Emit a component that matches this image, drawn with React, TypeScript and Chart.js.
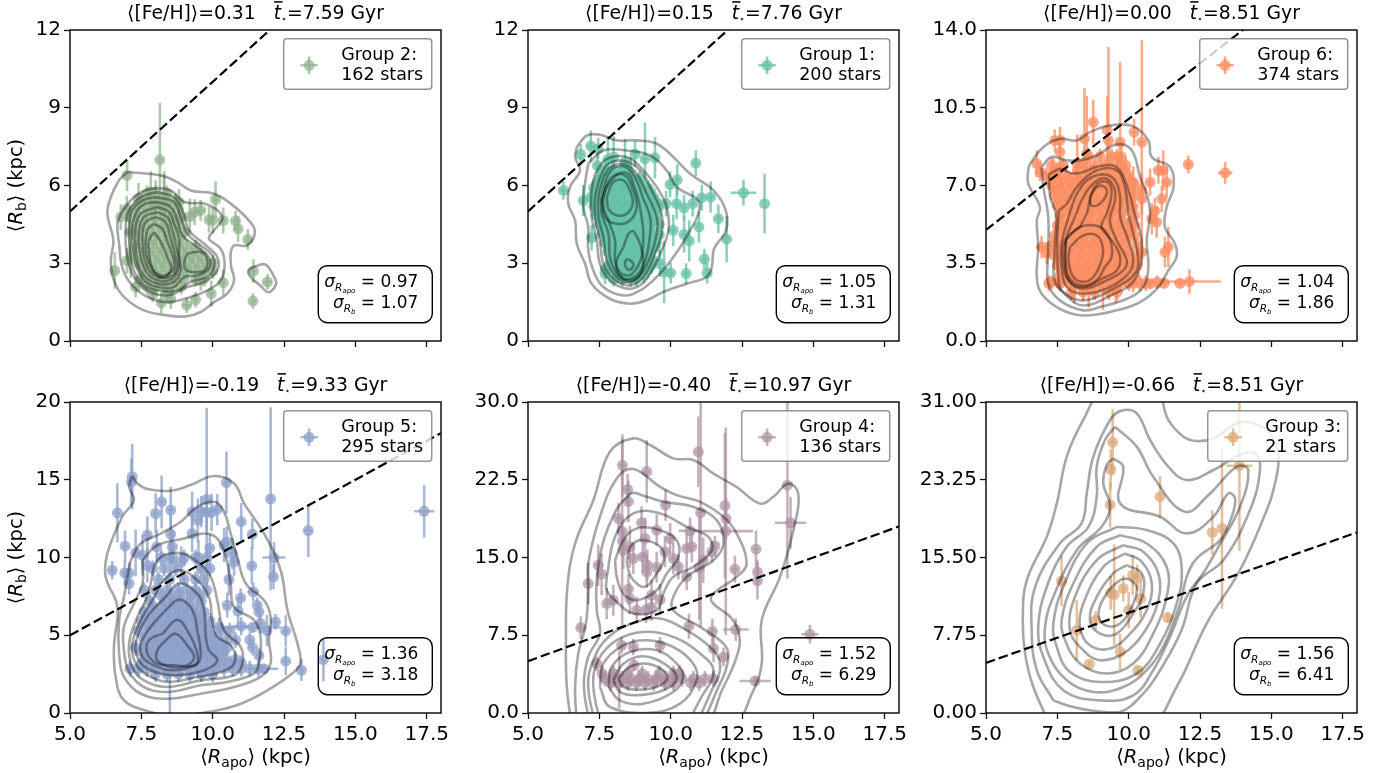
import React, { useEffect, useRef } from "react";
import { Chart, registerables } from "chart.js";
Chart.register(...registerables);

const FONT = "'DejaVu Sans'";
const xTicks = [5, 7.5, 10, 12.5, 15, 17.5];
const xLabels = ["5.0", "7.5", "10.0", "12.5", "15.0", "17.5"];
const oneToOne = [5, 18];

// star tables: x, y, xErr, yErr
const group2Stars = [[8.15,6.99,.1,2.2],[7.0,6.39,.1,.6],[6.57,2.72,.1,.7],[10.1,5.46,.1,.7],[9.37,4.97,.15,.5],[9.58,5.04,.15,.4],[9.87,4.68,.1,.5],[10.0,4.66,.1,.5],[10.37,4.65,.1,.5],[10.8,4.63,.1,.4],[10.89,4.33,.1,.5],[11.23,3.92,.1,.4],[11.43,2.7,.1,.45],[11.92,2.28,.15,.3],[11.41,1.54,.1,.3],[10.37,2.25,.1,.5],[9.95,1.83,.1,.5],[9.4,1.59,.1,.3],[9.09,1.38,.15,.3],[8.2,1.47,.1,.4],[8.53,1.63,.1,.4],[7.3,2.08,.1,.4],[7.13,3.24,.1,.8],[6.78,4.78,.1,.5],[6.99,5.1,.15,.5],[8.82,5.36,.1,.5],[7.83,5.75,.1,.8],[8.3,5.55,.1,1.0],[8.82,4.72,.1,.5],[9.58,2.34,.1,.4],[8.3,5.2,.1,1.2],[8.0,5.3,.1,.9],[7.4,5.5,.1,.6],[7.1,4.2,.1,1.0],[7.0,3.1,.1,.5],[9.2,4.8,.1,.7]];
const group1Stars = [[6.24,5.81,.1,.35],[6.85,7.2,.1,.4],[7.2,7.52,.15,.6],[7.46,7.42,.1,.4],[7.43,6.77,.1,.5],[6.94,5.42,.1,.6],[7.23,3.98,.1,.5],[7.7,2.6,.1,.4],[8.75,7.22,.1,.5],[9.1,7.03,.1,1.4],[9.45,7.07,.1,.8],[10.23,6.22,.1,.6],[9.98,6.04,.1,.5],[10.88,6.86,.1,.5],[12.55,5.72,.45,.5],[13.29,5.3,.05,1.15],[11.4,5.55,.1,.6],[11.09,5.53,.1,.5],[10.77,5.3,.1,.5],[10.47,5.14,.1,.5],[10.21,5.3,.1,.6],[9.84,5.3,.1,.5],[11.67,4.72,.1,.55],[11.96,3.93,.1,.9],[10.99,4.4,.1,.6],[10.47,4.11,.1,.7],[10.09,4.27,.1,.6],[10.65,3.86,.1,.8],[11.18,3.16,.1,.4],[11.28,2.62,.1,.4],[10.54,2.6,.1,.4],[9.77,2.66,.1,1.2],[10.0,2.62,.1,.4],[9.63,2.98,.1,.5],[9.6,4.1,.1,.7],[8.0,7.1,.1,.8],[8.4,6.9,.1,.9],[7.8,7.0,.1,.9],[8.6,6.3,.1,.8]];
const group6Stars = [[13.38,7.57,.25,.5],[12.09,7.95,.1,.4],[12.13,2.68,1.1,.55],[11.8,2.6,.2,.2],[11.0,2.65,.2,.3],[11.24,2.6,.2,.2],[10.76,2.58,.1,.2],[8.76,9.85,.1,1.0],[10.19,9.4,.1,.6],[10.46,8.95,.1,4.6],[9.29,9.03,.1,4.2],[9.7,8.95,.1,3.6],[8.53,8.43,.1,2.6],[7.59,9.03,.15,.6],[7.41,9.03,.1,.5],[6.78,7.98,.1,.6],[6.89,7.6,.1,.4],[11.21,7.68,.1,.9],[11.04,7.68,.1,.6],[11.33,7.15,.1,.7],[10.75,7.15,.1,.6],[10.46,6.78,.1,.8],[11.16,6.4,.1,.6],[10.46,6.4,.1,.7],[10.16,6.03,.1,.6],[10.92,5.85,.1,.6],[10.81,5.5,.1,.7],[10.98,5.35,.1,.7],[11.39,4.23,.1,.9],[11.27,4.0,.1,.7],[10.46,4.0,.1,.6],[6.95,4.23,.2,.5],[7.13,3.96,.1,.5],[7.3,2.65,.1,.3],[7.55,2.65,.1,.3],[10.16,2.6,.1,.4],[7.59,8.5,.1,.6],[7.36,7.53,.1,.7],[9.75,8.28,.1,.6],[10.16,7.15,.1,.7],[8.45,9.1,.05,2.3],[9.25,9.5,.05,1.5],[8.2,8.0,.1,1.3],[8.6,2.4,.05,.9],[8.1,2.5,.05,.8],[9.1,2.4,.05,1.0],[9.55,2.4,.05,.7],[8.4,2.5,.05,.7],[7.95,2.9,.05,.7]];
const group5Stars = [[17.41,12.97,.35,1.7],[13.35,11.73,.15,1.7],[12.03,13.77,.1,5.9],[12.15,10.0,.4,1.0],[12.13,8.76,.1,.8],[12.56,5.28,.1,1.0],[12.56,3.33,.1,.9],[13.11,2.75,.1,.7],[13.88,3.43,.1,1.4],[12.2,5.86,.1,.5],[11.4,5.5,1.0,.3],[7.18,15.2,.1,2.1],[7.15,14.87,.1,1.5],[6.66,12.87,.1,1.9],[6.48,9.18,.1,.6],[6.93,10.73,.1,1.0],[6.92,9.01,.1,.8],[7.07,9.0,.1,.7],[7.07,8.32,.1,.7],[7.3,10.3,.1,1.5],[7.54,10.15,.1,1.3],[7.71,11.44,.1,1.2],[7.71,9.5,.1,1.1],[8.0,12.83,.1,1.3],[8.21,13.58,.1,1.7],[8.53,13.05,.1,1.5],[8.53,11.5,.1,1.2],[8.04,10.68,.1,1.1],[8.59,10.68,.1,1.1],[9.28,11.54,.1,1.2],[9.28,12.94,.1,1.3],[9.48,12.4,.1,1.4],[9.79,13.73,.1,5.9],[9.6,12.95,.1,1.0],[9.79,12.9,.1,1.2],[9.96,12.9,.1,1.2],[10.16,13.09,.1,1.0],[10.48,14.82,.1,2.0],[11.0,12.3,.1,1.2],[11.39,11.5,.1,1.0],[10.49,11.0,.1,1.0],[10.69,10.25,.1,1.0],[10.75,9.72,.1,.9],[11.37,9.46,.1,1.2],[10.57,8.58,.1,1.0],[11.42,7.79,.2,.6],[10.98,7.4,.1,.6],[10.51,6.93,.1,.8],[10.89,6.56,.1,.8],[11.56,6.93,.1,.5],[11.62,6.5,.1,.6],[11.0,5.58,.3,.6],[11.68,5.75,.1,.6],[10.22,5.53,.3,.6],[11.62,3.7,.1,.5],[11.8,2.85,.5,.3],[8.9,9.7,.1,1.0],[8.5,9.9,.1,1.0],[9.5,10.0,.1,1.1],[9.9,10.6,.1,.9],[10.4,10.8,.1,1.1],[8.5,4.0,.05,4.0],[11.9,5.3,.15,1.0]];
const group4Stars = [[8.31,23.9,.1,3.0],[9.16,23.3,.1,3.0],[8.49,21.56,.1,1.5],[8.52,20.4,.1,2.0],[9.82,20.05,.1,1.5],[8.17,18.76,.1,1.5],[8.98,18.35,.1,1.6],[11.05,19.34,.1,11],[10.97,25.2,.1,3.4],[11.94,18.76,.1,2.0],[11.93,17.54,.95,10],[14.09,21.98,.1,9],[14.2,18.35,.55,2.5],[12.99,15.8,.1,1.8],[13.04,13.6,.1,1.2],[13.04,12.75,.1,1.8],[12.25,13.87,.1,1.3],[11.55,16.1,.1,1.0],[11.44,15.55,.1,1.0],[11.14,14.74,.1,2.2],[10.74,16.03,.1,1.5],[10.56,15.87,.1,1.5],[10.68,17.57,.4,1.3],[9.98,16.83,.1,1.5],[10.09,14.9,.1,1.5],[10.27,14.1,.1,1.2],[10.56,13.13,.1,1.3],[9.8,15.55,.1,1.5],[9.51,17.64,.1,1.5],[9.1,16.83,.1,2.0],[8.34,15.7,.1,1.8],[8.57,16.03,.1,2.0],[8.31,16.6,.1,1.5],[9.02,15.06,.1,1.5],[8.69,14.9,.1,1.5],[9.18,14.26,.1,1.5],[9.51,14.06,.1,1.5],[9.16,13.6,.1,1.5],[7.46,14.26,.1,2.0],[7.58,13.39,.1,2.0],[7.11,12.49,.1,2.0],[8.52,11.94,.1,1.5],[8.57,11.04,.1,1.5],[7.76,10.56,.1,1.5],[7.99,10.88,.1,1.5],[9.33,11.36,.1,1.5],[9.63,10.94,.1,1.5],[8.81,9.91,.1,1.3],[9.14,9.98,.1,1.3],[9.33,10.2,.1,1.3],[6.85,8.24,.1,1.1],[10.64,8.37,.1,1.2],[11.46,7.88,.1,1.2],[12.28,8.05,.45,1.1],[14.88,7.6,.3,.9],[12.96,3.09,.55,.5],[11.85,5.41,.1,.9],[11.5,6.2,.1,1.3],[9.63,6.53,.1,.8],[8.69,6.37,.1,.8],[8.28,6.53,.1,.8],[7.41,4.76,.1,.7],[8.71,4.6,.1,.6],[8.2,3.2,.05,2.8],[11.0,14.0,.05,5],[11.9,20,.05,7],[8.3,17.5,.1,9]];
const group3Stars = [[13.88,24.65,.45,8.5],[9.44,26.98,.1,3.3],[9.37,24.29,.1,2.0],[9.35,20.76,.1,2.3],[11.1,21.56,.05,2.1],[12.93,18.0,.05,2.2],[13.27,18.4,.05,8.0],[7.65,13.17,.05,2.5],[8.18,8.25,.05,3.0],[8.62,4.86,.05,.3],[8.84,9.25,.05,.9],[9.7,6.09,.05,1.8],[10.32,4.26,.05,.4],[11.37,9.51,.05,.5],[9.37,11.98,.05,1.7],[9.49,11.81,.05,5.0],[9.81,12.41,.05,1.3],[10.14,13.74,.05,2.0],[10.3,13.5,.05,1.3],[10.42,11.41,.05,1.9],[10.0,10.25,.05,1.8]];

// dense centres, one row per line: y, then the x of each star
const group2Rows = [[5.7,7.7,8.0,8.4],[5.4,7.5,7.8,8.1,8.4,8.7],[5.1,7.3,7.6,7.9,8.2,8.5,8.8],[4.8,7.1,7.4,7.7,8.0,8.3,8.6,8.9],[4.5,7.3,7.6,7.9,8.2,8.5,8.8],[4.2,7.2,7.5,7.8,8.1,8.4,8.7,9.0],[3.9,7.4,7.7,8.0,8.3,8.6,8.9],[3.6,7.3,7.6,7.9,8.2,8.5,8.8,9.1,9.4],[3.3,7.5,7.8,8.1,8.4,8.7,9.0,9.3,9.6],[3.0,7.4,7.7,8.0,8.3,8.6,8.9,9.2,9.5,9.8,10.0],[2.7,7.6,7.9,8.2,8.5,8.8,9.1,9.4,9.7,10.0],[2.4,7.5,7.8,8.1,8.4,8.7,9.0,9.4,9.7],[2.1,7.7,8.0,8.3,8.6,8.9],[1.8,7.9,8.4]];
const group1Rows = [[6.6,7.7,8.0,8.3,8.5],[6.25,7.5,7.8,8.1,8.4,8.7,8.9],[5.9,7.3,7.6,7.9,8.2,8.5,8.8,9.2],[5.55,7.2,7.5,7.8,8.1,8.4,8.7,9.0,9.4],[5.2,7.3,7.6,7.9,8.2,8.5,8.8,9.1,9.4,9.6],[4.85,7.4,7.7,8.0,8.3,8.6,8.9,9.2,9.5],[4.5,7.5,7.8,8.1,8.4,8.7,9.0,9.3,9.6],[4.15,7.6,7.9,8.2,8.5,8.8,9.1,9.4],[3.8,7.7,8.0,8.3,8.6,8.9,9.2,9.5],[3.45,7.8,8.1,8.4,8.7,9.0,9.3],[3.1,7.9,8.2,8.5,8.8,9.1,9.4],[2.75,7.7,8.0,8.3,8.6,8.9,9.2],[2.4,8.0,8.3,8.6,8.8],[6.45,7.65,7.95,8.25,8.55],[6.05,7.4,7.7,8.0,8.3,8.6,8.95],[5.75,7.45,7.75,8.05,8.35,8.65,9.0,9.3],[5.35,7.35,7.65,7.95,8.25,8.55,8.85,9.2,9.5],[5.0,7.45,7.75,8.05,8.35,8.65,8.95,9.3],[4.65,7.55,7.85,8.15,8.45,8.75,9.1,9.4],[4.3,7.65,7.95,8.25,8.55,8.85,9.25],[3.95,7.75,8.05,8.35,8.65,9.0,9.3],[3.6,7.9,8.2,8.5,8.8,9.15,9.4],[3.25,8.0,8.3,8.6,8.9,9.2],[2.9,7.85,8.1,8.4,8.7,9.0,9.3],[2.55,8.15,8.45,8.75,9.05]];
const group6Rows = [[8.3,8.6,9.0,9.4,9.6],[7.9,7.3,7.7,8.4,8.8,9.2,9.6,9.9],[7.45,7.1,7.45,7.8,8.15,8.5,8.85,9.2,9.55,10.0],[7.0,7.3,7.65,8.0,8.35,8.7,9.05,9.4,9.75,10.2],[6.55,7.4,7.75,8.1,8.45,8.8,9.15,9.5,9.85,10.2],[6.1,7.5,7.85,8.2,8.55,8.9,9.25,9.6,10.1],[5.65,7.6,7.95,8.3,8.65,9.0,9.35,9.7,10.2],[5.2,7.5,7.85,8.2,8.55,8.9,9.25,9.6,9.95,10.2],[4.75,7.4,7.75,8.1,8.45,8.8,9.15,9.5,9.85,10.2],[4.3,7.3,7.65,8.0,8.35,8.7,9.05,9.4,9.75,10.3],[3.85,7.4,7.75,8.1,8.45,8.8,9.15,9.5,9.85,10.3],[3.4,7.5,7.85,8.2,8.55,8.9,9.25,9.6,9.95,10.3],[2.95,7.6,7.95,8.3,8.65,9.0,9.35,9.7,10.2],[2.6,7.2,7.6,7.95,8.3,8.65,9.0,9.35,9.7,10.0,10.4,10.6],[2.2,8.0,8.4,8.8,9.3,9.6],[7.7,7.5,8.2,8.65,9.05,9.4,9.8],[7.2,7.25,7.6,7.95,8.3,8.65,9.0,9.35,9.7,10.05],[6.8,7.5,7.85,8.2,8.55,8.9,9.25,9.6,9.95],[6.3,7.6,7.95,8.3,8.65,9.0,9.35,9.75,10.05],[5.85,7.7,8.05,8.4,8.75,9.1,9.45,9.85],[5.4,7.65,8.0,8.35,8.7,9.05,9.4,9.75,10.1],[5.0,7.6,7.95,8.3,8.65,9.0,9.35,9.7,10.05],[4.5,7.45,7.8,8.15,8.5,8.85,9.2,9.6,9.95],[4.05,7.55,7.9,8.25,8.6,8.95,9.3,9.65,10.0],[3.6,7.6,7.95,8.3,8.65,9.0,9.35,9.7,10.1],[3.2,7.75,8.1,8.45,8.8,9.15,9.5,9.85,10.15],[2.8,7.8,8.15,8.5,8.85,9.2,9.55,9.9]];
const group5Rows = [[10.0,8.2,8.6,9.0,9.4,9.8],[9.3,7.9,8.3,8.7,9.6,9.9],[8.6,8.1,8.5,9.0,9.4,9.7],[7.9,7.6,8.0,8.4,8.8,9.1,9.4,9.8],[7.2,7.8,8.3,8.6,8.9,9.2,9.6],[6.5,7.6,8.0,8.4,8.7,9.0,9.3,9.7],[5.9,7.5,7.9,8.2,8.5,8.8,9.1,9.5,9.9],[5.3,7.4,7.8,8.2,8.5,8.8,9.1,9.4,9.8,10.3,10.6],[4.7,7.6,7.9,8.2,8.5,8.8,9.1,9.4,9.7,10.1,10.5,10.8,11.3],[4.2,7.3,7.6,7.9,8.2,8.5,8.8,9.1,9.4,9.7,10.1,10.5,11.4],[3.7,7.7,8.0,8.3,8.6,8.9,9.2,9.5,9.8,10.2],[3.2,7.5,7.9,8.2,8.5,8.8,9.1,9.4,9.8,10.2,10.6,11.0],[2.85,7.1,7.4,7.7,8.0,8.3,8.6,8.9,9.2,9.5,9.8,10.1,10.4,10.7,11.0,11.3,11.6],[7.55,8.2,8.55,8.85,9.25,9.55],[6.85,7.9,8.2,8.5,8.8,9.1,9.45],[6.2,7.75,8.1,8.4,8.7,9.0,9.3,9.6],[5.6,7.7,8.0,8.35,8.65,8.95,9.3,9.65],[5.0,7.65,8.0,8.35,8.65,8.95,9.25,9.6,9.95],[4.45,7.75,8.05,8.35,8.65,8.95,9.25,9.55,9.9,10.3],[3.95,7.5,7.85,8.15,8.45,8.75,9.05,9.35,9.65,10.0,10.4],[3.45,7.65,8.05,8.35,8.65,8.95,9.25,9.6,10.0,10.4,10.8],[2.5,8.0,8.4,8.8,9.2,9.6,10.0]];
const group4Rows = [[3.8,7.6,8.0,8.5,9.0,9.6,10.1,10.3],[3.3,7.7,8.0,8.3,8.6,8.9,9.2,9.5,9.8,10.1,10.4,10.8,11.2,11.5],[2.9,7.9,8.2,8.5,8.8,9.1,9.4,9.8,10.1,10.7,11.0]];
const group3Rows: number[][] = [];

// density contours: x,y,x,y,... closed loops
const group2Contours = [
[7.01,6.52,8.18,6.39,8.76,6.13,9.23,5.81,10.05,5.68,10.63,5.3,11.27,4.65,11.48,4.2,11.21,3.69,10.75,3.69,10.63,3.37,10.65,2.85,10.75,2.34,10.51,1.83,10.05,1.5,9.58,1.12,9.05,.95,8.41,.99,7.59,1.18,6.89,1.7,6.54,2.34,6.43,3.11,6.52,3.88,6.31,4.91,6.43,5.55,6.72,6.2],
[11.5,2.89,11.85,2.95,12.14,2.5,12.22,2.2,11.96,1.88,11.66,2.15,11.33,2.47,11.25,2.72],
[6.78,4.91,7.24,5.55,7.83,5.87,8.53,5.81,9.0,5.36,9.81,5.27,10.34,4.78,10.05,4.27,9.87,3.95,10.28,3.56,10.42,2.98,10.28,2.34,9.81,1.95,9.23,1.7,8.41,1.5,7.71,1.7,7.13,2.21,6.83,2.85,6.72,3.75,6.66,4.52],
[8.06,5.75,8.64,5.55,8.94,5.04,9.17,4.27,9.7,3.75,10.16,3.24,10.16,2.72,9.7,2.28,9.11,2.08,8.41,1.76,7.71,1.95,7.24,2.47,6.99,3.37,6.95,4.4,7.07,5.04,7.48,5.55],
[8.06,5.55,8.64,5.36,8.88,4.78,9.11,4.14,9.58,3.69,9.99,3.3,10.05,2.85,9.81,2.47,9.23,2.28,8.76,1.95,8.18,1.93,7.59,2.15,7.24,2.72,7.1,3.5,7.07,4.4,7.18,5.04,7.59,5.45],
[8.06,5.36,8.53,5.17,8.76,4.65,8.94,4.07,9.46,3.62,9.87,3.24,9.87,2.79,9.46,2.53,9.0,2.47,8.64,2.08,8.18,2.06,7.65,2.28,7.36,2.79,7.22,3.5,7.18,4.4,7.36,5.04,7.65,5.3],
[8.06,5.17,8.47,4.97,8.67,4.46,8.82,3.95,8.82,3.24,8.88,2.72,8.64,2.28,8.18,2.19,7.71,2.4,7.42,2.85,7.3,3.62,7.3,4.4,7.48,4.91],
[9.11,3.37,9.58,3.43,9.81,3.11,9.7,2.72,9.29,2.66,9.03,2.79,9.02,3.11],
[8.06,4.97,8.41,4.78,8.59,4.27,8.7,3.75,8.82,3.11,8.76,2.66,8.53,2.37,8.18,2.31,7.77,2.53,7.54,2.98,7.42,3.62,7.42,4.27,7.59,4.78],
[8.0,4.78,8.35,4.59,8.5,4.07,8.64,3.5,8.74,2.92,8.59,2.53,8.18,2.44,7.83,2.66,7.62,3.11,7.54,3.75,7.57,4.4,7.71,4.65],
[7.94,4.52,8.24,4.33,8.41,3.82,8.62,3.24,8.64,2.79,8.41,2.57,8.18,2.53,7.89,2.75,7.69,3.24,7.65,3.88,7.73,4.33],
[7.94,4.2,8.15,3.88,8.41,3.24,8.55,2.85,8.41,2.53,8.15,2.47,7.89,2.79,7.77,3.37,7.77,3.88]];
const group1Contours = [
[6.71,7.48,7.06,7.93,7.52,7.96,8.11,7.74,8.81,7.74,9.51,7.61,10.09,7.1,10.68,6.45,11.5,5.81,11.93,5.04,11.94,4.27,11.52,3.56,11.44,2.85,11.26,2.47,10.56,2.21,9.74,1.89,9.16,1.57,8.57,1.44,7.87,1.63,7.23,2.21,7.0,2.98,6.71,3.75,6.65,4.65,6.41,5.3,6.47,5.94,6.82,6.58,6.65,7.1],
[7.11,6.84,7.64,7.35,8.46,7.35,9.28,7.16,9.86,6.58,10.21,5.94,10.97,5.42,10.97,4.91,10.68,4.27,10.33,3.62,9.92,2.98,9.51,2.47,8.93,1.95,8.34,1.76,7.64,2.08,7.29,2.72,7.11,3.5,7.11,4.4,6.94,5.17,7.0,6.07],
[7.35,6.45,7.76,7.03,8.46,7.1,8.94,6.71,9.51,5.94,9.86,5.17,9.92,4.27,9.63,3.37,9.28,2.6,8.93,2.15,8.46,2.02,7.87,2.34,7.52,2.98,7.41,3.88,7.23,4.78,7.23,5.81],
[7.52,6.32,7.82,6.84,8.4,6.94,8.93,6.58,9.33,5.81,9.68,4.91,9.68,4.14,9.45,3.37,9.16,2.66,8.81,2.24,8.46,2.15,7.99,2.4,7.64,2.98,7.52,3.88,7.35,4.78,7.35,5.55],
[7.64,6.32,7.93,6.75,8.4,6.81,8.81,6.45,9.16,5.68,9.51,4.78,9.51,4.14,9.28,3.24,8.98,2.6,8.69,2.32,8.4,2.28,8.05,2.53,7.76,3.11,7.64,4.01,7.47,4.78,7.47,5.55],
[7.76,6.32,7.99,6.67,8.4,6.72,8.75,6.32,9.02,5.55,9.28,4.78,9.28,4.14,9.14,3.24,8.87,2.6,8.58,2.4,8.34,2.4,8.05,2.72,7.87,3.24,7.82,4.14,7.58,4.91,7.58,5.55],
[7.87,6.13,8.17,6.45,8.52,6.45,8.69,6.07,8.87,5.45,8.98,4.78,9.04,4.14,8.98,3.24,8.75,2.72,8.52,2.53,8.22,2.66,8.05,3.11,8.05,3.88,7.82,4.65,7.64,5.17,7.7,5.81],
[7.58,5.42,7.93,6.32,8.4,6.39,8.69,5.81,8.81,5.17,8.57,4.65,8.11,4.52,7.7,4.78],
[7.76,5.55,7.99,6.13,8.34,6.2,8.57,5.81,8.67,5.3,8.46,4.91,8.11,4.85,7.82,5.1],
[8.69,4.27,8.93,3.75,9.04,2.98,8.87,2.47,8.52,2.34,8.17,2.6,8.11,3.11,8.34,3.62,8.52,4.14],
[8.52,3.17,8.69,2.98,8.63,2.79,8.52,2.75,8.4,2.92,8.43,3.11]];
const group6Contours = [
[6.54,7.98,7.01,8.73,7.59,9.1,8.18,9.03,8.64,9.4,9.35,9.7,10.16,9.66,10.69,9.03,10.81,8.28,11.45,7.83,11.57,6.93,11.33,6.03,11.27,5.13,11.62,4.38,11.68,3.78,11.39,3.18,11.04,2.43,10.4,1.75,9.58,1.38,8.41,1.15,7.59,1.45,6.95,2.13,6.78,2.88,6.83,4.23,6.78,5.43,6.89,6.03,6.48,7.08,6.48,7.68],
[6.95,7.83,7.3,8.28,7.83,8.13,8.29,8.13,8.88,8.35,9.58,8.85,10.11,8.58,10.4,7.38,10.63,6.63,10.75,5.73,10.63,4.53,10.69,3.33,10.51,2.43,9.93,1.9,8.99,1.53,8.41,1.38,7.59,1.83,7.18,2.58,7.18,3.93,7.18,5.58,7.01,6.93],
[7.2,7.5,7.6,7.75,8.0,7.55,8.4,7.6,8.9,7.85,9.55,7.85,9.95,6.95,10.2,5.75,10.45,4.55,10.4,3.33,10.1,2.58,9.5,2.13,8.4,1.6,7.75,2.13,7.4,2.73,7.4,3.93,7.45,5.73,7.25,6.48],
[7.55,5.88,7.83,6.18,8.18,6.93,8.88,7.68,9.58,7.68,9.87,6.93,9.99,5.73,10.16,4.83,10.34,3.63,10.22,3.03,9.58,2.43,8.41,1.83,7.65,2.28,7.53,3.03,7.5,4.53],
[8.12,6.48,8.53,7.23,9.11,7.5,9.52,7.23,9.7,6.48,9.7,5.58,9.99,4.53,10.16,3.63,9.99,3.03,9.34,2.43,8.41,2.13,7.83,2.43,7.65,3.33,7.65,4.38,7.89,5.58],
[8.29,6.18,8.64,6.93,9.11,7.33,9.46,7.0,9.52,6.33,9.34,5.43,9.58,4.53,9.93,3.63,9.81,3.18,9.23,2.73,8.41,2.36,7.94,2.66,7.77,3.48,7.83,4.68,8.12,5.58],
[8.29,5.13,8.53,5.73,8.7,6.63,8.94,7.12,9.29,7.12,9.4,6.63,9.23,5.73,9.05,5.13,9.4,4.53,9.7,3.78,9.58,3.18,9.05,2.8,8.41,2.43,7.89,2.73,7.71,3.48,7.77,4.53],
[7.8,4.53,8.29,5.13,9.0,5.13,9.35,4.53,9.4,3.78,9.17,3.33,8.88,2.73,8.41,2.5,7.94,2.8,7.8,3.48],
[7.94,4.23,8.41,4.75,8.88,4.75,9.09,4.23,9.05,3.63,8.76,2.88,8.41,2.66,8.06,2.88,7.89,3.63],
[8.64,6.48,8.88,6.93,9.17,6.93,9.23,6.63,8.99,6.18,8.7,6.1]];
const group5Contours = [
[7.18,15.24,7.36,14.76,7.71,14.4,8.53,14.29,9.23,14.66,10.05,15.24,10.75,14.76,11.1,13.48,11.8,11.54,12.38,9.18,12.62,6.61,12.97,4.46,13.08,3.28,12.85,2.64,11.92,1.46,10.98,.6,10.05,.13,8.64,-.2,7.83,.06,6.89,.82,6.6,2.32,6.54,4.25,6.66,6.82,6.25,8.76,6.31,10.26,6.83,12.62,7.24,13.69,7.07,14.55],
[7.13,9.82,7.48,10.9,8.18,11.54,8.88,12.3,9.46,13.26,10.05,13.58,10.37,13.05,10.63,11.54,10.86,10.04,11.16,8.33,11.8,7.25,12.03,6.18,11.97,4.68,12.03,3.18,11.68,2.32,10.75,1.67,9.58,1.24,8.41,.92,7.48,1.24,6.89,2.32,6.72,3.82,6.72,5.97,6.89,7.46,7.01,8.76],
[7.54,9.82,8.06,10.79,8.99,11.22,9.7,11.54,10.16,11.22,10.46,10.04,10.63,8.33,10.75,6.82,11.45,5.97,11.68,4.89,11.62,3.18,11.45,2.53,10.51,2.0,9.58,1.78,8.41,1.35,7.59,1.67,7.07,2.64,6.89,4.03,6.89,5.54,7.24,7.04,7.54,8.33],
[7.83,8.33,8.06,9.82,8.76,10.3,9.46,9.72,9.93,8.76,10.16,7.25,10.4,5.32,10.98,4.25,11.04,3.18,10.75,2.43,9.58,2.1,8.41,1.67,7.59,2.1,7.18,2.96,7.07,4.46,7.36,6.18,7.65,7.25],
[8.18,8.33,8.76,9.18,9.4,8.64,9.87,7.46,9.99,5.75,10.16,4.89,10.68,4.25,10.75,3.18,10.28,2.64,9.46,2.32,8.41,2.0,7.71,2.43,7.3,3.18,7.18,4.46,7.54,6.18,7.95,7.46],
[8.35,7.46,8.82,8.33,9.46,7.68,9.7,6.61,9.75,5.1,9.87,4.03,10.16,3.39,9.7,2.75,8.64,2.43,7.83,2.75,7.42,3.39,7.3,4.46,7.71,6.18],
[8.35,6.61,8.82,7.29,9.29,6.61,9.46,5.32,9.58,3.82,9.46,3.18,8.64,2.75,7.94,3.07,7.54,3.61,7.48,4.46,7.83,5.54],
[8.24,5.1,8.76,6.0,9.17,5.1,9.46,3.82,9.4,3.07,8.64,3.07,8.06,3.18,7.71,3.82,7.77,4.68],
[8.29,4.57,8.7,5.1,9.11,4.35,9.35,3.61,9.11,3.07,8.53,2.96,8.06,3.39,8.06,4.03]];
const group4Contours = [
[6.55,-1.5,6.36,2.51,6.33,7.34,6.38,12.17,6.65,16.35,7.29,20.53,7.87,25.2,8.69,26.49,9.28,25.85,10.09,24.56,10.79,24.4,11.5,23.1,12.31,21.8,13.13,20.2,13.6,20.86,14.12,22.14,14.47,21.18,14.3,17.64,13.83,13.13,13.19,8.95,13.19,4.76,12.9,2.19,12.0,-1.5],
[6.72,-1.5,6.65,2.51,6.76,5.73,7.03,8.63,7.11,12.17,7.11,14.42,7.52,18.92,8.11,22.63,8.69,23.53,9.63,21.82,10.21,21.02,11.03,20.37,11.85,18.92,12.31,17.32,12.66,14.42,12.31,13.13,11.5,11.52,11.44,10.72,12.14,9.11,12.41,7.34,12.31,5.41,11.85,2.51,11.0,-1.5],
[7.2,-1.5,6.96,2.51,7.11,5.41,7.52,7.66,7.41,9.91,7.43,13.45,7.82,17.96,8.57,21.11,9.16,20.86,9.74,20.37,10.79,19.89,11.61,18.6,11.85,16.35,11.5,14.74,10.56,13.13,10.09,11.2,10.09,9.91,11.03,8.3,11.85,6.69,12.02,5.41,11.73,2.83,10.7,-1.5],
[7.76,13.13,8.05,16.99,8.69,19.25,9.63,19.25,10.56,17.96,11.32,16.99,11.44,15.71,10.79,14.1,10.09,13.13,9.74,11.52,9.51,9.91,8.69,9.59,8.17,10.56,7.76,11.84],
[8.05,14.74,8.34,16.67,8.81,17.8,9.63,17.64,10.21,16.67,10.27,15.06,9.86,13.45,9.51,11.84,8.81,10.88,8.34,11.52,8.11,13.13],
[8.46,14.74,8.63,16.19,9.04,16.67,9.63,16.03,9.77,14.9,9.51,13.45,9.1,12.17,8.69,12.81,8.52,13.78],
[7.4,-1.5,7.11,2.51,7.29,5.09,7.82,7.34,8.81,8.79,9.63,9.11,10.56,7.98,11.38,6.37,11.73,4.76,11.5,2.51,10.5,-1.5],
[7.6,-1.5,7.29,2.51,7.46,5.09,8.11,7.02,9.04,7.82,10.09,7.34,11.03,5.73,11.5,4.12,11.15,1.87,10.2,-1.5],
[7.52,2.51,7.64,4.76,8.34,6.53,9.16,7.02,10.09,6.37,10.79,4.76,10.91,3.15,10.33,.9,9.16,0,7.87,.58],
[7.82,2.51,7.93,4.44,8.57,5.89,9.51,6.05,10.21,4.76,10.44,3.48,10.09,2.03,9.04,.9,8.22,1.22],
[7.99,3.15,8.34,4.76,9.04,5.47,9.86,4.6,10.21,3.32,9.74,2.19,8.81,1.71,8.22,2.03],
[8.17,3.32,8.57,4.44,9.16,4.76,9.74,4.12,9.88,3.32,9.51,2.51,8.81,2.25,8.34,2.51]];
const group3Contours = [
[7.3,-1.5,6.66,2.59,6.37,5.92,6.29,9.58,6.43,13.24,7.13,17.56,7.48,20.89,7.83,25.55,8.41,29.21,9.2,32.5,10.9,32.5,11.39,29.21,11.92,27.54,12.38,27.11,12.97,27.38,13.79,28.88,14.37,28.88,14.95,27.88,15.25,25.55,15.07,22.22,14.84,20.23,13.9,14.24,12.73,8.92,11.68,2.59,10.6,-1.5],
[7.36,1.26,6.78,4.26,6.6,8.25,6.72,12.58,7.59,16.9,8.35,18.9,8.53,21.89,8.76,25.55,9.35,29.21,9.75,30.14,10.28,29.87,10.75,27.21,11.39,24.55,12.03,23.22,12.97,24.22,13.9,25.72,14.43,25.88,14.6,24.22,14.25,20.23,13.32,15.24,12.38,12.91,11.85,8.25,11.1,4.26,10.51,1.93,9.68,.1,8.64,.27,7.83,.77],
[9.52,28.54,10.28,26.55,10.86,23.55,11.97,20.06,12.85,21.89,13.79,24.55,14.19,24.22,13.9,20.56,13.08,16.23,12.68,14.24,12.03,11.58,11.45,7.58,10.86,4.26,10.16,1.76,8.99,1.26,7.71,2.26,7.01,5.59,6.83,8.58,7.13,12.58,7.83,16.57,8.59,18.56,8.88,21.56,8.88,24.55,9.17,27.21],
[9.46,25.38,9.81,24.55,9.7,20.89,11.1,19.56,12.03,17.9,12.97,19.56,13.49,21.89,13.73,21.39,13.61,19.56,13.2,17.23,12.38,15.4,12.03,13.57,11.8,10.91,11.21,6.59,10.63,4.26,9.81,2.59,8.76,2.1,7.83,3.26,7.18,5.92,7.07,8.58,7.36,11.58,8.18,16.23,9.05,18.56,9.35,20.56,9.11,22.89,9.23,24.72],
[9.58,18.56,10.63,18.23,11.57,16.9,11.86,14.24,11.68,10.91,11.1,6.92,10.28,3.93,8.99,3.09,7.94,4.09,7.48,6.59,7.36,8.92,7.71,12.58,8.53,16.9],
[9.7,17.73,10.63,16.9,11.33,14.57,11.33,11.58,10.86,7.92,10.16,4.93,9.23,3.93,8.29,4.93,7.77,7.25,7.65,9.25,8.06,12.91,8.88,16.57],
[9.81,16.73,10.51,16.07,11.04,13.9,11.04,11.24,10.51,7.92,9.81,5.92,8.99,5.26,8.41,6.25,7.94,8.25,8.12,11.58,8.88,15.24],
[9.87,15.9,10.46,15.07,10.81,12.91,10.63,10.25,10.05,7.92,9.35,6.42,8.64,6.75,8.29,8.58,8.41,10.91,9.11,14.57],
[9.93,14.74,10.46,13.91,10.51,11.91,10.16,9.91,9.58,7.92,8.99,7.92,8.64,9.25,8.88,11.58,9.46,13.91],
[9.99,13.41,10.28,12.58,10.16,10.91,9.7,8.92,9.17,8.75,8.94,9.91,9.23,11.91,9.7,13.24]];

const panels = [
  { group: "2", count: "162", feh: "0.31", age: "7.59", sigA: "0.97", sigB: "1.07", color: [143,176,139], alpha: .7, yTicks: [0,3,6,9,12], yLabels: ["0","3","6","9","12"], yMax: 12, stars: group2Stars, rows: group2Rows, contours: group2Contours, legendW: 148 },
  { group: "1", count: "200", feh: "0.15", age: "7.76", sigA: "1.05", sigB: "1.31", color: [102,194,165], alpha: .75, yTicks: [0,3,6,9,12], yLabels: ["0","3","6","9","12"], yMax: 12, stars: group1Stars, rows: group1Rows, contours: group1Contours, legendW: 148 },
  { group: "6", count: "374", feh: "0.00", age: "8.51", sigA: "1.04", sigB: "1.86", color: [252,141,98], alpha: .75, yTicks: [0,3.5,7,10.5,14], yLabels: ["0.0","3.5","7.0","10.5","14.0"], yMax: 14, stars: group6Stars, rows: group6Rows, contours: group6Contours, legendW: 148 },
  { group: "5", count: "295", feh: "-0.19", age: "9.33", sigA: "1.36", sigB: "3.18", color: [141,160,203], alpha: .75, yTicks: [0,5,10,15,20], yLabels: ["0","5","10","15","20"], yMax: 20, stars: group5Stars, rows: group5Rows, contours: group5Contours, legendW: 148 },
  { group: "4", count: "136", feh: "-0.40", age: "10.97", sigA: "1.52", sigB: "6.29", color: [172,146,162], alpha: .7, yTicks: [0,7.5,15,22.5,30], yLabels: ["0.0","7.5","15.0","22.5","30.0"], yMax: 30, stars: group4Stars, rows: group4Rows, contours: group4Contours, legendW: 148 },
  { group: "3", count: "21", feh: "-0.66", age: "8.51", sigA: "1.56", sigB: "6.41", color: [217,168,120], alpha: .72, yTicks: [0,7.75,15.5,23.25,31], yLabels: ["0.00","7.75","15.50","23.25","31.00"], yMax: 31, stars: group3Stars, rows: group3Rows, contours: group3Contours, legendW: 140 },
];

type Seg = { t: string; s: number; i?: boolean; dy?: number; bar?: boolean };
function segFont(seg: Seg) { return `${seg.i ? "italic " : ""}${seg.s}px ${FONT}`; }
function drawRich(ctx: CanvasRenderingContext2D, segs: Seg[], x: number, y: number, align: "left" | "center" | "right") {
  ctx.textAlign = "left";
  ctx.textBaseline = "alphabetic";
  ctx.fillStyle = "#000";
  let w = 0;
  for (const g of segs) { ctx.font = segFont(g); w += ctx.measureText(g.t).width; }
  let cx = align === "left" ? x : align === "center" ? x - w / 2 : x - w;
  for (const g of segs) {
    ctx.font = segFont(g);
    ctx.fillText(g.t, cx, y + (g.dy || 0));
    const gw = ctx.measureText(g.t).width;
    if (g.bar) ctx.fillRect(cx + 0.5, y - g.s * 0.95, gw + 1, 1.5);
    cx += gw;
  }
}

function rgba(c: number[], a: number) { return `rgba(${c[0]},${c[1]},${c[2]},${a})`; }
function rr(ctx: CanvasRenderingContext2D, x: number, y: number, w: number, h: number, r: number) {
  ctx.beginPath();
  ctx.roundRect(x, y, w, h, r);
}

function Panel({ index }: { index: number }) {
  const ref = useRef<HTMLCanvasElement>(null);
  const p = panels[index];
  const bottomRow = index >= 3;
  const leftCol = index % 3 === 0;
  useEffect(() => {
    const canvas = ref.current!;
    const coreStars = p.rows.flatMap((r) => r.slice(1).map((x) => [x, r[0], 0.08, p.yMax * 0.025]));
    const stars = [...coreStars, ...p.stars];
    const paint = rgba(p.color, p.alpha);
    const decor = {
      id: "decor",
      beforeDatasetsDraw(chart: any) {
        const { ctx, chartArea: a, scales } = chart;
        ctx.save();
        rr(ctx, a.right - 122.7, a.top + 235.7, 114, 57, 9);
        ctx.fillStyle = "#fff";
        ctx.fill();
        ctx.beginPath();
        ctx.rect(a.left, a.top, a.width, a.height);
        ctx.clip();
        ctx.strokeStyle = paint;
        ctx.lineWidth = 2.6;
        for (const s of stars) {
          const px = scales.x.getPixelForValue(s[0]);
          const py = scales.y.getPixelForValue(s[1]);
          ctx.beginPath();
          ctx.moveTo(scales.x.getPixelForValue(s[0] - s[2]), py);
          ctx.lineTo(scales.x.getPixelForValue(s[0] + s[2]), py);
          ctx.moveTo(px, scales.y.getPixelForValue(s[1] - s[3]));
          ctx.lineTo(px, scales.y.getPixelForValue(s[1] + s[3]));
          ctx.stroke();
        }
        ctx.restore();
      },
      afterDatasetsDraw(chart: any) {
        const { ctx, chartArea: a } = chart;
        ctx.save();
        // legend
        const lw = p.legendW;
        const lx = a.right - 9.3 - lw;
        const ly = a.top + 8.7;
        rr(ctx, lx, ly, lw, 50.6, 3);
        ctx.fillStyle = "rgba(255,255,255,0.8)";
        ctx.fill();
        ctx.strokeStyle = "rgba(130,130,130,0.85)";
        ctx.lineWidth = 1.5;
        ctx.stroke();
        const mx = lx + 25.4;
        const my = ly + 26.6;
        ctx.strokeStyle = paint;
        ctx.lineWidth = 2.6;
        ctx.beginPath();
        ctx.moveTo(mx - 8.7, my); ctx.lineTo(mx + 8.7, my);
        ctx.moveTo(mx, my - 8.7); ctx.lineTo(mx, my + 8.7);
        ctx.stroke();
        ctx.fillStyle = paint;
        ctx.beginPath();
        ctx.arc(mx, my, 5.5, 0, Math.PI * 2);
        ctx.fill();
        drawRich(ctx, [{ t: `Group ${p.group}:`, s: 17.5 }], lx + 57.5, a.top + 30, "left");
        drawRich(ctx, [{ t: `${p.count} stars`, s: 17.5 }], lx + 57.5, a.top + 50, "left");
        // sigma box
        rr(ctx, a.right - 122.7, a.top + 235.7, 114, 57, 9);
        ctx.strokeStyle = "#000";
        ctx.lineWidth = 1.4;
        ctx.stroke();
        const tx = a.right - 22.7;
        drawRich(ctx, [{ t: "σ", s: 17, i: true }, { t: "R", s: 10.5, i: true, dy: 4 }, { t: "apo", s: 7, i: true, dy: 6 }, { t: ` = ${p.sigA}`, s: 17 }], tx, a.top + 257, "right");
        drawRich(ctx, [{ t: "σ", s: 17, i: true }, { t: "R", s: 10.5, i: true, dy: 4 }, { t: "b", s: 7, i: true, dy: 6 }, { t: ` = ${p.sigB}`, s: 17 }], tx, a.top + 278, "right");
        // frame
        ctx.strokeStyle = "#111";
        ctx.lineWidth = 1.5;
        ctx.strokeRect(a.left, a.top, a.width, a.height);
        // title
        drawRich(ctx, [
          { t: `⟨[Fe/H]⟩=${p.feh}   `, s: 18.8 },
          { t: "t", s: 18.8, i: true, bar: true },
          { t: "⋆", s: 9.5, dy: 3 },
          { t: `=${p.age} Gyr`, s: 18.8 },
        ], a.left + a.width / 2, a.top - 11, "center");
        // axis labels
        if (bottomRow) {
          drawRich(ctx, [
            { t: "⟨", s: 19.5 }, { t: "R", s: 19.5, i: true }, { t: "apo", s: 14, dy: 4 }, { t: "⟩ (kpc)", s: 19.5 },
          ], a.left + a.width / 2, 391, "center");
        }
        if (leftCol) {
          ctx.translate(22, a.top + a.height / 2);
          ctx.rotate(-Math.PI / 2);
          drawRich(ctx, [
            { t: "⟨", s: 19.5 }, { t: "R", s: 19.5, i: true }, { t: "b", s: 14, dy: 4 }, { t: "⟩ (kpc)", s: 19.5 },
          ], 0, 0, "center");
        }
        ctx.restore();
      },
    };
    const contourSets = p.contours.map((flat) => {
      const pts: { x: number; y: number }[] = [];
      for (let i = 0; i < flat.length; i += 2) pts.push({ x: flat[i], y: flat[i + 1] });
      pts.push({ ...pts[0] });
      return {
        data: pts, showLine: true, tension: 0.4, pointRadius: 0, borderWidth: 2.6,
        borderColor: "rgba(0,0,0,0.35)", fill: false,
      };
    });
    const chart = new Chart(canvas, {
      type: "scatter",
      data: {
        datasets: [
          { data: oneToOne.map((v) => ({ x: v, y: v })), showLine: true, pointRadius: 0, borderWidth: 2.2, borderColor: "#000", borderDash: [9.5, 4] },
          ...contourSets,
          { data: stars.map((s) => ({ x: s[0], y: s[1] })), pointRadius: 5.5, pointBorderWidth: 0, backgroundColor: paint, borderWidth: 0 },
        ] as any,
      },
      options: {
        responsive: false,
        animation: false,
        events: [],
        layout: { padding: { left: 0, top: 30, right: 19, bottom: 0 } },
        plugins: { legend: { display: false }, tooltip: { enabled: false }, title: { display: false } },
        scales: {
          x: {
            type: "linear", min: 5, max: 18,
            afterBuildTicks: (s: any) => { s.ticks = xTicks.map((v) => ({ value: v })); },
            afterFit: (s: any) => { s.height = bottomRow ? 60 : 29; },
            grid: { drawOnChartArea: false, drawTicks: true, tickLength: 6, tickWidth: 1.3, tickColor: "#111" },
            border: { display: false },
            ticks: {
              autoSkip: false, maxRotation: 0, padding: 4, color: "#000",
              font: { family: FONT, size: 20 },
              callback: (v: any) => (bottomRow ? xLabels[xTicks.indexOf(v)] : ""),
            },
          },
          y: {
            type: "linear", min: 0, max: p.yMax,
            afterBuildTicks: (s: any) => { s.ticks = p.yTicks.map((v) => ({ value: v })); },
            afterFit: (s: any) => { s.width = 70; },
            grid: { drawOnChartArea: false, drawTicks: true, tickLength: 6, tickWidth: 1.3, tickColor: "#111" },
            border: { display: false },
            ticks: {
              autoSkip: false, padding: 3, color: "#000",
              font: { family: FONT, size: 20 },
              callback: (v: any) => p.yLabels[p.yTicks.indexOf(v)],
            },
          },
        },
      } as any,
      plugins: [decor],
    });
    return () => chart.destroy();
  }, []);
  const left = [0, 458, 916][index % 3];
  const top = bottomRow ? 372 : 0;
  return (
    <canvas
      ref={ref}
      width={460}
      height={bottomRow ? 401 : 370}
      style={{ position: "absolute", left, top, width: 460, height: bottomRow ? 401 : 370 }}
    />
  );
}

export default function App() {
  return (
    <div style={{ position: "absolute", left: 0, top: 0, width: 1395, height: 773, overflow: "hidden", background: "#fff" }}>
      {panels.map((_, i) => <Panel key={i} index={i} />)}
    </div>
  );
}
